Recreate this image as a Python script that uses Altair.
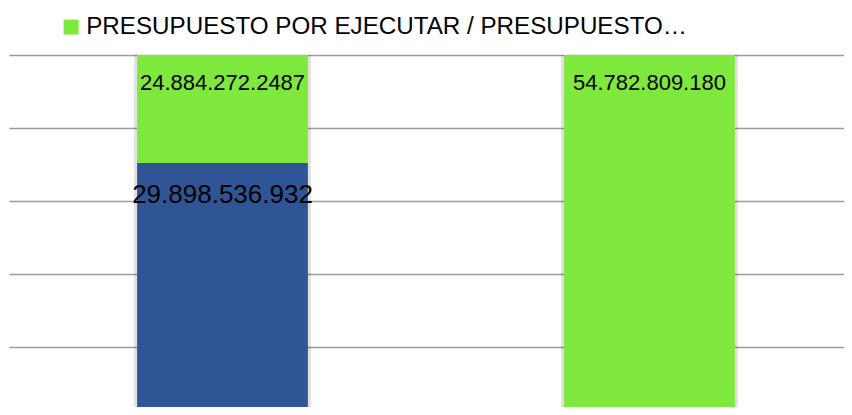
import altair as alt
import pandas as pd

categories = ["Presupuesto 1", "Presupuesto 2"]
series = ["PRESUPUESTO EJECUTADO", "PRESUPUESTO POR EJECUTAR / PRESUPUESTO…"]
# segment heights (bottom segment, top segment)
executed = [38.57e9, 0.0]
pending = [16.21e9, 54.78e9]
# data labels as printed on the chart
label_executed = ["29.898.536.932", ""]
label_pending = ["24.884.272.2487", "54.782.809.180"]
# gridline values
grid_values = [10.956e9, 21.912e9, 32.868e9, 43.824e9, 54.78e9]
y_domain = [1.95e9, 54.78e9]

rows = []
for i, c in enumerate(categories):
    base = 0.0
    for s, v, lab, k in ((series[0], executed[i], label_executed[i], 0),
                         (series[1], pending[i], label_pending[i], 1)):
        if v > 0:
            rows.append({"cat": c, "serie": s, "value": v, "label": lab,
                         "order": k, "top": base + v, "base": base})
        base += v
df = pd.DataFrame(rows)

FONT = "Liberation Sans Narrow, Arial Narrow, Liberation Sans, Arial"
BLUE = "#2F5596"
GREEN = "#7FE83C"

x_enc = alt.X("cat:N", sort=categories, axis=None,
              scale=alt.Scale(paddingInner=0.6, paddingOuter=0.2778, align=0.54))
y_scale = alt.Scale(domain=y_domain, nice=False, zero=False)

base = alt.Chart(df)

shadow = base.transform_aggregate(
    lo="min(base)", hi="max(top)", groupby=["cat"]
).mark_bar(clip=True, stroke="#000000", strokeWidth=6,
           strokeOpacity=0.12, fill="#ffffff").encode(
    x=x_enc,
    y=alt.Y("lo:Q", scale=y_scale),
    y2="hi:Q",
)

bars = base.mark_bar(clip=True).encode(
    x=x_enc,
    y=alt.Y("base:Q", scale=y_scale,
            axis=alt.Axis(values=grid_values, labels=False, ticks=False,
                          domain=False, grid=True, gridColor="#9c9c9c",
                          gridWidth=1.5, title=None)),
    y2="top:Q",
    color=alt.Color("serie:N",
                    scale=alt.Scale(domain=series, range=[BLUE, GREEN]),
                    legend=alt.Legend(values=[series[1]], title=None,
                                      orient="none", legendX=50, legendY=-40,
                                      symbolType="square", symbolSize=225,
                                      symbolStrokeWidth=0, symbolOpacity=1,
                                      labelFont=FONT, labelFontSize=24.2,
                                      labelColor="#000000", labelLimit=900,
                                      labelOffset=3, padding=0)),
)

text_pending = base.transform_filter(alt.datum.order == 1).mark_text(
    font=FONT, fontSize=22, color="#000000", baseline="middle", dy=28
).encode(x=x_enc, y=alt.Y("top:Q", scale=y_scale), text="label:N")

text_exec = base.transform_filter(alt.datum.order == 0).mark_text(
    font=FONT, fontSize=26, color="#000000", baseline="middle", dy=32
).encode(x=x_enc, y=alt.Y("top:Q", scale=y_scale), text="label:N")

chart = alt.layer(shadow, bars, text_pending, text_exec).properties(
    width=835, height=352,
    background="#ffffff",
    autosize=alt.AutoSizeParams(type="none"),
    padding={"left": 1, "top": 47, "right": 0, "bottom": 0},
).configure_view(stroke=None)

chart.save("out.html", embed_options={"renderer": "svg", "actions": False})
